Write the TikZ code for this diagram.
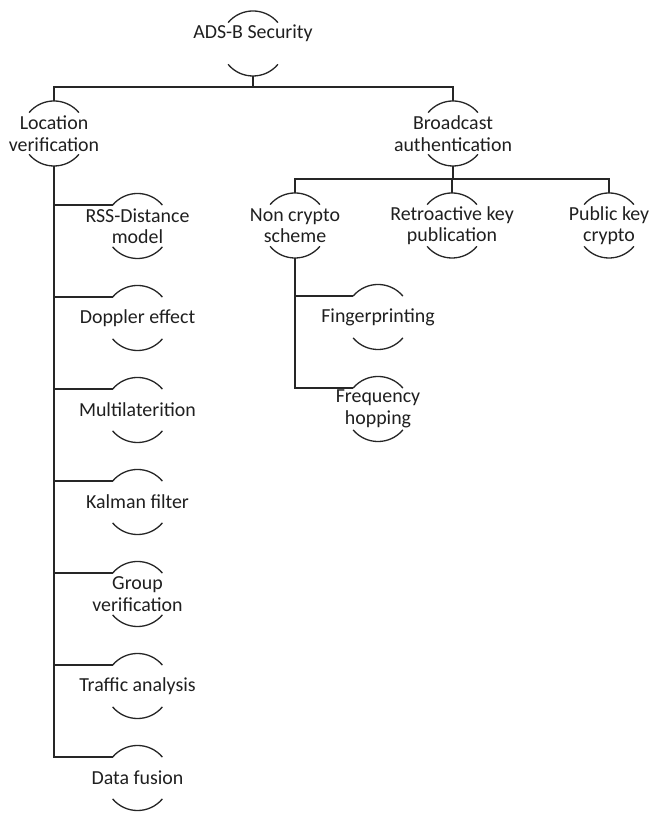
\documentclass[tikz,border=0pt]{standalone}
\usepackage{fontspec}
\setmainfont{Carlito}
\begin{document}
\begin{tikzpicture}[x=1pt,y=1pt,
  bub/.style={circle,minimum size=65pt,inner sep=0pt,outer sep=0pt,draw=none},
  every label/.style={font=\fontsize{19.9pt}{21.5pt}\selectfont,align=center,inner sep=0pt,text=black!88},
  conn/.style={line width=1.6pt,black!85},
  arcl/.style={line width=1.3pt,black!85}]
\useasboundingbox (0,0) rectangle (652,813);
% nodes
\node[bub,label={[yshift=10.5pt]center:ADS-B Security}] (root) at (253,769.5) {};
\node[bub,label={center:Location\\verification}] (loc) at (54,679.5) {};
\node[bub,label={center:Broadcast\\authentication}] (bc) at (453,679.5) {};
\node[bub,label={center:RSS-Distance\\model}] (rss) at (137.5,587) {};
\node[bub,label={center:Doppler effect}] (dop) at (137.5,495) {};
\node[bub,label={center:Multilaterition}] (mul) at (137.5,403) {};
\node[bub,label={center:Kalman filter}] (kal) at (137.5,311) {};
\node[bub,label={center:Group\\verification}] (grp) at (137.5,219) {};
\node[bub,label={center:Traffic analysis}] (tra) at (137.5,127) {};
\node[bub,label={center:Data fusion}] (dat) at (137.5,35) {};
\node[bub,label={center:Non crypto\\scheme}] (ncs) at (295,587.5) {};
\node[bub,label={center:Retroactive key\\publication}] (rkp) at (452,587.5) {};
\node[bub,label={center:Public key\\crypto}] (pkc) at (609,587.5) {};
\node[bub,label={center:Fingerprinting}] (fin) at (378,496) {};
\node[bub,label={center:Frequency\\hopping}] (frq) at (378,404) {};
% buses
\coordinate (bus1) at (253,726);
\coordinate (bus2) at (453,634);
\draw[conn] (root.south) -- (bus1);
\draw[conn] (loc.north) |- (bus1) -| (bc.north);
\draw[conn] (bc.south) -- (bus2);
\draw[conn] (ncs.north) |- (bus2) -| (pkc.north);
\draw[conn] (rkp.north) -- (rkp.north |- bus2);
% children of location verification
\foreach \c in {rss,dop,mul,kal,grp,tra,dat}{
  \draw[conn] (loc.south) |- (\c.140);
}
% children of non crypto scheme
\foreach \c in {fin,frq}{
  \draw[conn] (ncs.south) |- (\c.140);
}
% arcs
\foreach \n in {root,loc,bc,rss,dop,mul,kal,grp,tra,dat,ncs,rkp,pkc,fin,frq}{
  \draw[arcl] (\n.140) .. controls +(13,15.5) and +(-13,15.5) .. (\n.40);
  \draw[arcl] (\n.220) .. controls +(13,-15.5) and +(-13,-15.5) .. (\n.320);
}
\end{tikzpicture}
\end{document}
